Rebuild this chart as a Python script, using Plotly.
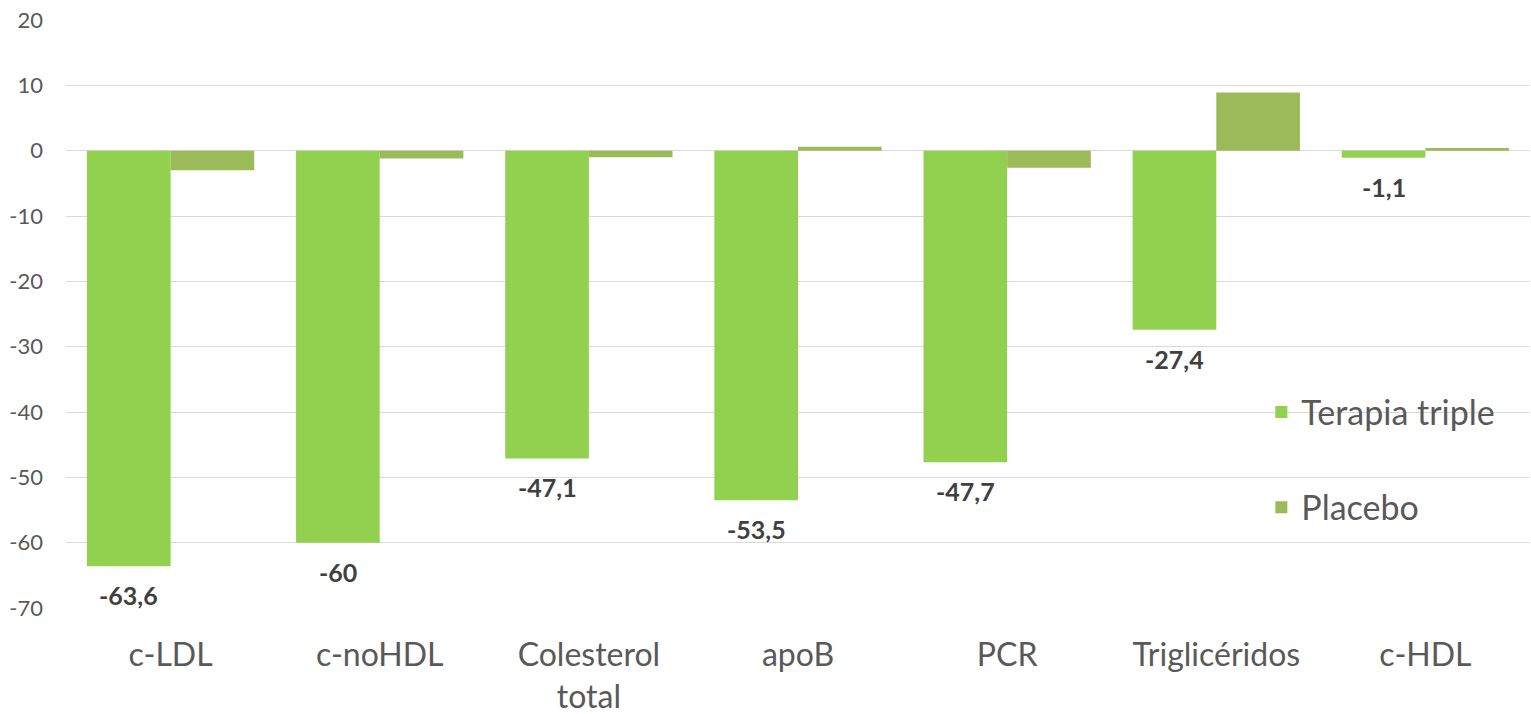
import plotly.graph_objects as go

categories = ["c-LDL", "c-noHDL", "Colesterol<br>total", "apoB", "PCR", "Triglicéridos", "c-HDL"]
terapia_triple = [-63.6, -60.0, -47.1, -53.5, -47.7, -27.4, -1.1]
placebo = [-3.0, -1.2, -1.0, 0.6, -2.6, 8.9, 0.4]
y_ticks = [20, 10, 0, -10, -20, -30, -40, -50, -60, -70]
y_ticktext = [str(t) for t in y_ticks]

FONT = "Lato, 'Open Sans', sans-serif"
fig = go.Figure()
fig.add_trace(go.Bar(
    x=categories, y=terapia_triple, name="Terapia triple",
    marker=dict(color="#92D050", line=dict(width=0)),
    legendgroup="a",
))
fig.add_trace(go.Bar(
    x=categories, y=placebo, name="Placebo",
    marker=dict(color="#9BBB59", line=dict(width=0)),
    legendgroup="b",
))

# data labels for Terapia triple (below bar ends)
for i, v in enumerate(terapia_triple):
    fig.add_annotation(
        x=i - 0.2, y=v, xref="x", yref="y",
        text="<b>" + f"{v:g}".replace(".", ",") + "</b>",
        showarrow=False, yanchor="middle", yshift=-29,
        font=dict(family=FONT, size=25, color="#404040"),
    )

fig.update_layout(
    width=1531, height=714,
    margin=dict(l=66, r=1, t=20, b=106, autoexpand=False),
    paper_bgcolor="white", plot_bgcolor="white",
    barmode="group", bargap=0.2, bargroupgap=0,
    font=dict(family=FONT, color="#595959"),
    legend=dict(
        x=0.8165, y=0.382, xanchor="left", yanchor="top",
        bgcolor="rgba(0,0,0,0)", tracegroupgap=48,
        font=dict(family=FONT, size=34, color="#595959"),
    ),
    xaxis=dict(
        showgrid=False, showline=False, ticks="", automargin=False,
        tickfont=dict(family=FONT, size=32, color="#595959"),
        ticklabelstandoff=25,
    ),
    yaxis=dict(
        range=[-70, 20], tickvals=y_ticks, ticktext=y_ticktext, automargin=False,
        showgrid=True, gridcolor="#D9D9D9", gridwidth=1.3,
        zeroline=True, zerolinecolor="#D9D9D9", zerolinewidth=1.3,
        showline=False, ticks="",
        tickfont=dict(family=FONT, size=22, color="#595959"),
        ticklabelstandoff=22,
    ),
)

fig.write_html(
    "out.html",
    config={"displayModeBar": False},
    post_script="document.body.style.margin='0';document.body.style.overflow='hidden';",
)
